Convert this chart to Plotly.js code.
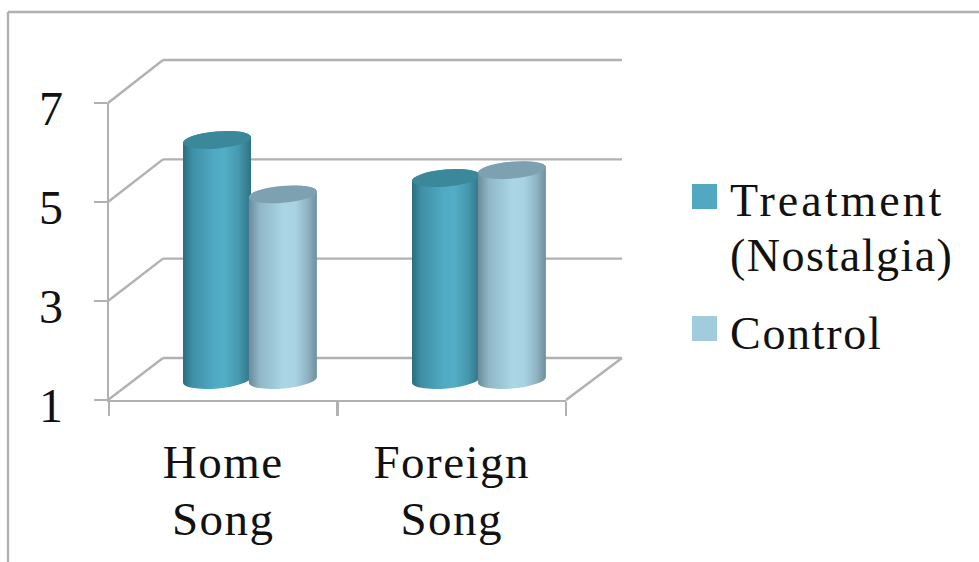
<!DOCTYPE html>
<html>
<head>
<meta charset="utf-8">
<script src="https://cdn.plot.ly/plotly-3.0.1.min.js"></script>
<style>
  html, body { margin: 0; padding: 0; background: #fff; overflow: hidden; }
  #chart { width: 979px; height: 562px; }
  .xtick text { font-size: 47px !important; letter-spacing: 1.5px; }
  .legendtext { font-size: 46px !important; letter-spacing: 1.7px; }
  .legendtext tspan.line:first-child { letter-spacing: 3px; }
  .legendtext tspan.line:nth-child(2) { letter-spacing: 1.5px; }
</style>
</head>
<body>
<div id="chart"></div>
<script>
// Song ratings by condition
const categories = ['Home<br>Song', 'Foreign<br>Song'];
const treatmentValues = [5.85, 5.08];
const controlValues = [4.75, 5.24];
const yTicks = [1, 3, 5, 7];
const seriesNames = ['Treatment<br>(Nostalgia)', 'Control'];

const W = 979, H = 562;
const GRID = '#b1b1b1';
const FONT = '"Liberation Serif", serif';
const INK = '#111';

// Pixel frames of the three depth planes of the pseudo-3D box
const front = { l: 109, r: 566, b: 400, t: 103 };
const back  = { l: 163, r: 622, b: 358, t: 60 };
const mid   = { l: 135.5, r: 593.5, b: 380, t: 83 };

const domX = p => [p.l / W, p.r / W];
const domY = p => [1 - p.b / H, 1 - p.t / H];
const valY = (p, v) => p.b - (v - 1) / 6 * (p.b - p.t);
const paperLine = (x0, y0, x1, y1, width) => ({
  type: 'line', xref: 'paper', yref: 'paper', layer: 'below',
  x0: x0 / W, x1: x1 / W, y0: 1 - y0 / H, y1: 1 - y1 / H,
  line: { color: GRID, width: width || 2.4 }
});

// Outer frame, floor edge, then one side-wall diagonal and back-wall rule per tick
const shapes = [
  paperLine(8, 12, W, 12, 2.4),
  paperLine(8, 12, 8, H, 2.4),
  paperLine(front.r, front.b, back.r, back.b)
].concat(yTicks.flatMap(v => [
  paperLine(front.l - 1, valY(front, v), back.l, valY(back, v)),
  paperLine(back.l, valY(back, v), back.r, valY(back, v))
]));

const BAR_W = 0.297;
const traces = [
  // Carries the category labels on the front axis
  { type: 'scatter', mode: 'none', x: categories, y: [1, 1], xaxis: 'x', yaxis: 'y',
    showlegend: false, hoverinfo: 'skip' },
  // Bars are given as heights above the axis floor at 1
  { type: 'bar', name: seriesNames[0], x: categories, y: treatmentValues.map(v => v - 1), base: 1,
    xaxis: 'x3', yaxis: 'y3', width: BAR_W, offset: -0.2925, cliponaxis: false,
    marker: { color: '#52a8c0' }, legendgroup: 'a' },
  { type: 'bar', name: seriesNames[1], x: categories, y: controlValues.map(v => v - 1), base: 1,
    xaxis: 'x3', yaxis: 'y3', width: BAR_W, offset: -0.005, cliponaxis: false,
    marker: { color: '#a0ccdb' }, legendgroup: 'b' }
];

const hidden = { showline: false, showticklabels: false, ticks: '', zeroline: false, showgrid: false };

const layout = {
  width: W, height: H,
  margin: { l: 0, r: 0, t: 0, b: 0 },
  paper_bgcolor: '#fff', plot_bgcolor: 'rgba(0,0,0,0)',
  barmode: 'overlay',
  font: { family: FONT, color: INK },
  shapes: shapes,
  xaxis: {
    domain: domX(front), anchor: 'y', type: 'category', categoryorder: 'array',
    categoryarray: categories, range: [-0.5, 1.5], tickson: 'boundaries',
    ticks: 'outside', ticklen: 14, tickwidth: 2.4, tickcolor: GRID,
    showline: true, linecolor: GRID, linewidth: 2.4, showgrid: false, zeroline: false,
    tickfont: { size: 44, family: FONT, color: INK }, tickangle: 0, ticklabelstandoff: 23
  },
  yaxis: {
    domain: domY(front), anchor: 'x', range: [1, 7], tickmode: 'array', tickvals: yTicks,
    ticks: 'outside', ticklen: 13, tickwidth: 2.4, tickcolor: GRID,
    showline: true, linecolor: GRID, linewidth: 2.4, showgrid: false, zeroline: false,
    tickfont: { size: 48, family: FONT, color: INK }, ticklabelstandoff: 21, ticklabelshift: 5
  },
  xaxis3: Object.assign({ domain: domX(mid), anchor: 'y3', type: 'category', categoryorder: 'array',
    categoryarray: categories, range: [-0.5, 1.5] }, hidden),
  yaxis3: Object.assign({ domain: domY(mid), anchor: 'x3', range: [1, 7] }, hidden),
  showlegend: true,
  legend: {
    x: 690 / W, y: 1 - 165 / H, xanchor: 'left', yanchor: 'top',
    bgcolor: 'rgba(0,0,0,0)', font: { size: 42.3, family: FONT, color: INK },
    tracegroupgap: 21, itemwidth: 30, itemclick: false, itemdoubleclick: false
  }
};

const NS = 'http://www.w3.org/2000/svg';

function gradient(defs, id, stops) {
  const g = document.createElementNS(NS, 'linearGradient');
  g.setAttribute('id', id);
  stops.forEach(s => {
    const st = document.createElementNS(NS, 'stop');
    st.setAttribute('offset', s[0]);
    st.setAttribute('stop-color', s[1]);
    g.appendChild(st);
  });
  defs.appendChild(g);
}

// Turns each flat bar into a tilted cylinder, keeping the box the axes computed for it
function roundBars(root) {
  const svg = root.querySelector('.main-svg');
  const defs = document.createElementNS(NS, 'defs');
  svg.insertBefore(defs, svg.firstChild);
  gradient(defs, 'bodyA', [[0, '#2a6d7f'], [0.14, '#3e90a6'], [0.45, '#4fa9c2'], [0.62, '#52adc6'], [0.82, '#4698ae'], [1, '#2f7284']]);
  gradient(defs, 'bodyB', [[0, '#6c8a98'], [0.16, '#8fb7c7'], [0.5, '#a9d5e5'], [0.68, '#a8d3e3'], [0.86, '#8fb4c3'], [1, '#6d8f9c']]);
  const caps = ['#3a8899', '#7ea1b2'];
  const RY = 8.5, TILT = 3;
  root.querySelectorAll('.barlayer .trace').forEach((tr, i) => {
    tr.querySelectorAll('.point').forEach(pt => {
      const path = pt.querySelector('path');
      // The rounded foot reaches just past the plot box
      path.removeAttribute('clip-path');
      // Bar outline reads M x0,y0 V y1 H x1 V y0 Z
      const n = path.getAttribute('d').match(/-?\d+(\.\d+)?/g).map(Number);
      const xl = Math.min(n[0], n[3]), xr = Math.max(n[0], n[3]);
      const yb = Math.max(n[1], n[2]), yt = Math.min(n[1], n[2]);
      const rx = Math.hypot(xr - xl, 2 * TILT) / 2;
      const rot = Math.atan2(-2 * TILT, xr - xl) * 180 / Math.PI;
      const arc = (x, y) => `A${rx},${RY} ${rot} 0 0 ${x},${y}`;
      path.setAttribute('d',
        `M${xl},${yt + TILT}V${yb + TILT}` + arc(xr, yb - TILT) +
        `V${yt - TILT}` + arc(xl, yt + TILT) + 'Z');
      path.style.fill = `url(#body${'AB'[i]})`;
      const cap = document.createElementNS(NS, 'path');
      cap.setAttribute('d', `M${xl},${yt + TILT}` + arc(xr, yt - TILT) + arc(xl, yt + TILT) + 'Z');
      cap.setAttribute('fill', caps[i]);
      pt.appendChild(cap);
    });
  });
}

// Enlarges the legend swatches and seats them beside the first text line
function sizeSwatches(root) {
  const tops = [184, 316], left = 692, size = 25;
  root.querySelectorAll('.legend .traces').forEach((tr, i) => {
    const p = tr.querySelector('.legendpoints path');
    p.setAttribute('d', `M0,0H${size}V${size}H0Z`);
    p.removeAttribute('transform');
    const b = p.getBoundingClientRect();
    p.setAttribute('transform', `translate(${left - b.left},${tops[i] - b.top})`);
    p.style.stroke = 'none';
  });
}

// Tightens the leading of two-line labels
function setLeading(root) {
  root.querySelectorAll('.xtick text tspan.line, .legendtext tspan.line').forEach(t => {
    if (parseFloat(t.getAttribute('dy')) > 0) t.setAttribute('dy', '1.2em');
  });
}

const el = document.getElementById('chart');
Plotly.newPlot(el, traces, layout, { displayModeBar: false, staticPlot: true }).then(() => {
  roundBars(el);
  sizeSwatches(el);
  setLeading(el);
});
</script>
</body>
</html>
